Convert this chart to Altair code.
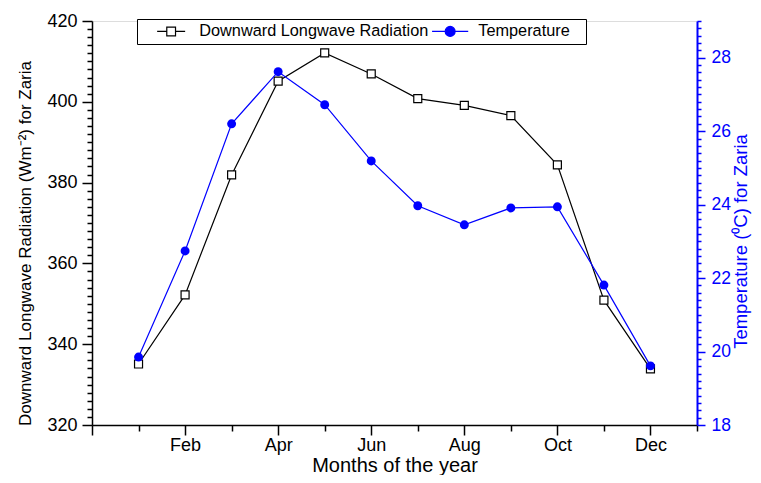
import altair as alt
import pandas as pd

# ---- data ----
months = ["Jan", "Feb", "Mar", "Apr", "May", "Jun", "Jul", "Aug", "Sep", "Oct", "Nov", "Dec"]
month_index = [1, 2, 3, 4, 5, 6, 7, 8, 9, 10, 11, 12]
radiation = [335.1, 352.2, 381.9, 405.1, 412.1, 406.9, 400.8, 399.1, 396.6, 384.4, 350.9, 333.9]
temperature = [19.85, 22.74, 26.2, 27.62, 26.72, 25.19, 23.97, 23.45, 23.91, 23.94, 21.81, 19.61]
series_names = ["Downward Longwave Radiation", "Temperature"]

x_label_pos = [2, 4, 6, 8, 10, 12]
x_label_text = ["Feb", "Apr", "Jun", "Aug", "Oct", "Dec"]
left_major_ticks = [320, 340, 360, 380, 400, 420]
right_major_ticks = [18, 20, 22, 24, 26, 28]

FONT = "Liberation Sans"
BLUE = "#0000FF"

df_rad = pd.DataFrame({"m": month_index, "month": months, "value": radiation})
df_tmp = pd.DataFrame({"m": month_index, "month": months, "value": temperature})
df_leg = pd.DataFrame({"series": series_names})

x_values = list(range(0, 14))
left_values = list(range(320, 421, 2))
right_values = [round(18 + 0.2 * i, 1) for i in range(56)]

x_label_expr = " : ".join(
    f"datum.value === {p} ? '{t}'" for p, t in zip(x_label_pos, x_label_text)
) + " : ''"


def arr(v):
    return "[" + ",".join(str(a) for a in v) + "]"


x_axis = alt.Axis(
    values=x_values,
    labelExpr=x_label_expr,
    title="Months of the year",
    grid=False,
    domainColor="black",
    domainWidth=1.5,
    tickColor="black",
    tickWidth=1.5,
    tickSize={"condition": {"test": "datum.value % 2 === 0", "value": 10}, "value": 6},
    labelFont=FONT,
    labelFontSize=18,
    labelColor="black",
    labelPadding=1,
    titleFont=FONT,
    titleFontSize=20,
    titleFontWeight="normal",
    titleColor="black",
    titleBaseline="alphabetic",
    titleY=46,
)

x_enc = alt.X("m:Q", scale=alt.Scale(domain=[0, 13], nice=False, zero=False), axis=x_axis)

left_axis = alt.Axis(
    values=left_values,
    labelExpr=f"indexof({arr(left_major_ticks)}, datum.value) >= 0 ? format(datum.value, 'd') : ''",
    title="Downward Longwave Radiation (Wm\u207b\u00b2) for Zaria",
    grid=False,
    domainColor="black",
    domainWidth=1.5,
    tickColor="black",
    tickWidth=1.5,
    tickSize={"condition": {"test": f"indexof({arr(left_major_ticks)}, datum.value) >= 0", "value": 10}, "value": 5},
    labelFont=FONT,
    labelFontSize=18,
    labelColor="black",
    labelPadding=5,
    titleFont=FONT,
    titleFontSize=17,
    titleFontWeight="normal",
    titleColor="black",
    titlePadding=12,
    titleY=222,
)

right_axis = alt.Axis(
    orient="right",
    values=right_values,
    labelExpr=f"indexof({arr(right_major_ticks)}, datum.value) >= 0 ? format(datum.value, 'd') : ''",
    title="Temperature (\u2070C) for Zaria",
    grid=False,
    domainColor=BLUE,
    domainWidth=2,
    tickColor=BLUE,
    tickWidth=1.5,
    tickSize={"condition": {"test": f"indexof({arr(right_major_ticks)}, datum.value) >= 0", "value": 8}, "value": 4},
    labelFont=FONT,
    labelFontSize=17.5,
    labelColor=BLUE,
    labelPadding=6,
    titleFont=FONT,
    titleFontSize=18.5,
    titleFontWeight="normal",
    titleColor=BLUE,
    titleAngle=270,
    titlePadding=20,
    titleY=220,
)

y_left = alt.Y("value:Q", scale=alt.Scale(domain=[320, 420], nice=False, zero=False), axis=left_axis)
y_right = alt.Y("value:Q", scale=alt.Scale(domain=[18, 29], nice=False, zero=False), axis=right_axis)

rad_line = alt.Chart(df_rad).mark_line(color="black", strokeWidth=1.2).encode(x=x_enc, y=y_left)
rad_pts = alt.Chart(df_rad).mark_point(
    shape="square", size=64, filled=True, fill="white", stroke="black", strokeWidth=1.2, opacity=1
).encode(x=x_enc, y=y_left)

# legend glyphs: line-marker-line
sq_path = "M-2.4,0H-0.75M0.75,0H2.4M-0.75,-0.75H0.75V0.75H-0.75Z"
ci_path = "M-3.1,0H-0.85M0.85,0H3.1M-0.85,0A0.85,0.85 0 1,1 0.85,0A0.85,0.85 0 1,1 -0.85,0Z"

legend = alt.Legend(
    title="\u00a0",
    titleOrient="left",
    titleFontSize=1,
    titlePadding=10,
    orient="none",
    legendX=45,
    legendY=-2,
    direction="horizontal",
    strokeColor="black",
    fillColor="white",
    padding=4,
    symbolSize=136,
    symbolStrokeWidth=1.2,
    symbolOpacity=1,
    symbolOffset=12,
    labelOffset=20,
    columnPadding=0,
    labelFont=FONT,
    labelFontSize=16.3,
    labelColor="black",
    labelLimit=400,
    labelExpr="indexof(datum.value, 'Temp') === 0 ? datum.label + '\u2800' : datum.label",
)

leg_pts = alt.Chart(df_leg).mark_point(opacity=0, size=136).encode(
    stroke=alt.Stroke("series:N", scale=alt.Scale(domain=series_names, range=["black", BLUE]), legend=legend),
    fill=alt.Fill("series:N", scale=alt.Scale(domain=series_names, range=["white", BLUE]), legend=legend),
    shape=alt.Shape("series:N", scale=alt.Scale(domain=series_names, range=[sq_path, ci_path]), legend=legend),
)

tmp_line = alt.Chart(df_tmp).mark_line(color=BLUE, strokeWidth=1.2).encode(x=x_enc, y=y_right)
tmp_pts = alt.Chart(df_tmp).mark_point(
    shape="circle", size=80, filled=True, color=BLUE, opacity=1
).encode(x=x_enc, y=y_right)

left = alt.layer(rad_line, rad_pts, leg_pts)
right = alt.layer(tmp_line, tmp_pts)

chart = (
    alt.layer(left, right)
    .resolve_scale(y="independent", stroke="shared", fill="shared", shape="shared")
    .properties(
        width=605,
        height=404,
        autosize=alt.AutoSizeParams(type="none"),
        padding={"left": 84, "top": 13, "right": 56, "bottom": 50},
    )
    .configure_view(stroke="black", strokeWidth=1.5)
    .configure(background="white")
)

chart.save("out.html", embed_options={"renderer": "svg", "actions": False})
